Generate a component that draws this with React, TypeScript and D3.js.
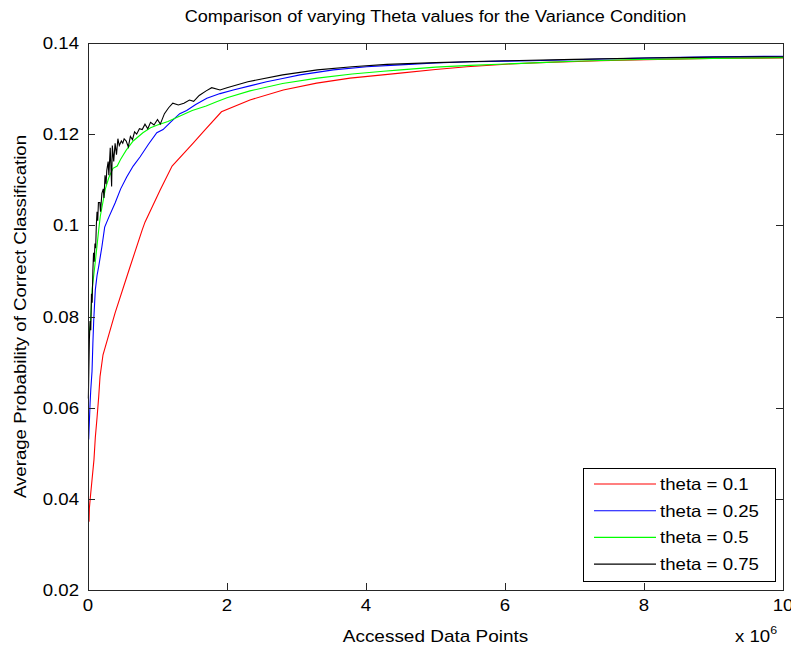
import React, { useEffect, useRef } from "react";
import * as d3 from "d3";

// x in units of 1e6 accessed data points, y = average probability
const theta01: [number, number][] = [
  [0.015, 0.035], [0.02, 0.038], [0.033, 0.0402], [0.058, 0.0442], [0.086, 0.0486],
  [0.105, 0.0534], [0.13, 0.0578], [0.154, 0.0624], [0.173, 0.0668], [0.216, 0.0716],
  [0.39, 0.0808], [0.59, 0.0902], [0.78, 0.099], [0.82, 0.1007], [1.04, 0.1078],
  [1.21, 0.113], [1.51, 0.118], [1.68, 0.1209], [1.92, 0.1249], [2.33, 0.1275],
  [2.81, 0.1297], [3.29, 0.1312], [3.77, 0.1323], [4.24, 0.133], [4.49, 0.1334],
  [5.0, 0.1342], [5.45, 0.1348], [6.07, 0.1354], [6.5, 0.1357], [7.37, 0.1361],
  [8.2, 0.1364], [8.95, 0.1366], [10, 0.1367],
];

const theta025: [number, number][] = [
  [0.01, 0.053], [0.02, 0.057], [0.03, 0.061], [0.04, 0.064], [0.058, 0.068],
  [0.07, 0.074], [0.082, 0.079], [0.105, 0.0858], [0.13, 0.089], [0.154, 0.091],
  [0.2, 0.0953], [0.24, 0.0996], [0.3, 0.1018], [0.39, 0.1049], [0.47, 0.108],
  [0.557, 0.1106], [0.65, 0.113], [0.748, 0.115], [0.87, 0.1178], [0.99, 0.1203],
  [1.08, 0.121], [1.2, 0.1228], [1.32, 0.1245], [1.42, 0.1252], [1.55, 0.1265],
  [1.71, 0.1279], [1.9, 0.1289], [2.09, 0.1297], [2.33, 0.1306], [2.57, 0.1315],
  [2.8, 0.1322], [3.05, 0.133], [3.53, 0.1341], [4.01, 0.1348], [4.49, 0.1352],
  [5.0, 0.1356], [5.5, 0.1359], [6.4, 0.1361], [7.4, 0.1365], [8.3, 0.1368],
  [9.0, 0.137], [10, 0.1371],
];

const theta05: [number, number][] = [
  [0.015, 0.076], [0.033, 0.078], [0.06, 0.086], [0.105, 0.092], [0.154, 0.099],
  [0.177, 0.102], [0.25, 0.108], [0.3, 0.1105], [0.36, 0.1125], [0.42, 0.113],
  [0.47, 0.1145], [0.55, 0.1165], [0.65, 0.1185], [0.79, 0.1203], [0.9, 0.1214],
  [1.0, 0.122], [1.15, 0.1228], [1.3, 0.1238], [1.5, 0.1252], [1.7, 0.1262],
  [1.85, 0.1271], [2.0, 0.128], [2.33, 0.1295], [2.8, 0.1311], [3.3, 0.1323],
  [3.8, 0.1332], [4.25, 0.1338], [4.5, 0.1341], [5.0, 0.1347], [5.5, 0.1351],
  [6.0, 0.1354], [6.5, 0.1357], [7.0, 0.136], [7.5, 0.1362], [8.0, 0.1364],
  [9.0, 0.1366], [10, 0.1368],
];

const theta075: [number, number][] = [
  [0.005, 0.062], [0.012, 0.068], [0.02, 0.075], [0.03, 0.079], [0.04, 0.077],
  [0.05, 0.085], [0.06, 0.083], [0.07, 0.09], [0.08, 0.094], [0.09, 0.092],
  [0.1, 0.096], [0.11, 0.095], [0.12, 0.1], [0.13, 0.103], [0.14, 0.101],
  [0.15, 0.105], [0.17, 0.105], [0.18, 0.103], [0.2, 0.107], [0.22, 0.108],
  [0.23, 0.106], [0.245, 0.111], [0.26, 0.109], [0.27, 0.112], [0.29, 0.114],
  [0.3, 0.111], [0.32, 0.117], [0.34, 0.1085], [0.35, 0.1175], [0.37, 0.114],
  [0.39, 0.118], [0.41, 0.1155], [0.43, 0.119], [0.45, 0.1175], [0.48, 0.1185],
  [0.5, 0.118], [0.52, 0.119], [0.55, 0.1185], [0.58, 0.1172], [0.61, 0.1195],
  [0.64, 0.1188], [0.67, 0.1205], [0.7, 0.12], [0.74, 0.1212], [0.78, 0.121],
  [0.82, 0.1222], [0.86, 0.1212], [0.9, 0.1226], [0.95, 0.122], [1.0, 0.1232],
  [1.04, 0.1222], [1.1, 0.1245], [1.16, 0.1258], [1.22, 0.1268], [1.3, 0.1264],
  [1.38, 0.1268], [1.46, 0.1275], [1.52, 0.1272], [1.6, 0.1285], [1.7, 0.1295],
  [1.78, 0.1302], [1.9, 0.1297], [2.0, 0.1302], [2.3, 0.1315], [2.8, 0.133],
  [3.3, 0.1341], [3.8, 0.1348], [4.3, 0.1353], [5.0, 0.1357], [6.0, 0.1361],
  [7.0, 0.1364], [8.0, 0.1367], [9.0, 0.1369], [10, 0.137],
];

const seriesNames = ["theta = 0.1", "theta = 0.25", "theta = 0.5", "theta = 0.75"];
const seriesData = [theta01, theta025, theta05, theta075];
const seriesColors = ["#ff0000", "#0000ff", "#00ff00", "#000000"];

const xTicks = [0, 2, 4, 6, 8, 10];
const yTicks = [0.02, 0.04, 0.06, 0.08, 0.1, 0.12, 0.14];

const FONT = "'Liberation Sans', Arial, Helvetica, sans-serif";
const STRETCH = 1.13; // reference glyphs are wider than Arial

export default function App() {
  const svgRef = useRef<SVGSVGElement>(null);

  useEffect(() => {
    const width = 791;
    const height = 645;
    const left = 88, right = 783, top = 43, bottom = 590;
    const tick = 7;

    const svg = d3.select(svgRef.current);
    svg.selectAll("*").remove();
    svg.attr("width", width).attr("height", height);

    svg.append("rect").attr("width", width).attr("height", height).attr("fill", "#fff");

    const x = d3.scaleLinear().domain([0, 10]).range([left, right]);
    const y = d3.scaleLinear().domain([0.02, 0.14]).range([bottom, top]);

    // lines
    const line = d3
      .line<[number, number]>()
      .x((d) => x(d[0]))
      .y((d) => y(d[1]));

    seriesData.forEach((data, i) => {
      svg
        .append("path")
        .datum(data)
        .attr("fill", "none")
        .attr("stroke", seriesColors[i])
        .attr("stroke-width", 1.1)
        .attr("d", line);
    });

    // box + inward ticks
    const axisColor = "#262626";
    svg
      .append("rect")
      .attr("x", left + 0.5)
      .attr("y", top + 0.5)
      .attr("width", right - left)
      .attr("height", bottom - top)
      .attr("fill", "none")
      .attr("stroke", axisColor)
      .attr("stroke-width", 1);

    const tg = svg.append("g").attr("stroke", axisColor).attr("stroke-width", 1);
    xTicks.forEach((t) => {
      const px = Math.round(x(t)) + 0.5;
      tg.append("line").attr("x1", px).attr("x2", px).attr("y1", bottom).attr("y2", bottom - tick);
      tg.append("line").attr("x1", px).attr("x2", px).attr("y1", top).attr("y2", top + tick);
    });
    yTicks.forEach((t) => {
      const py = Math.round(y(t)) + 0.5;
      tg.append("line").attr("x1", left).attr("x2", left + tick).attr("y1", py).attr("y2", py);
      tg.append("line").attr("x1", right).attr("x2", right - tick).attr("y1", py).attr("y2", py);
    });

    const txt = svg.append("g").attr("font-family", FONT).attr("fill", "#000");
    const label = (px: number, py: number, s: string, size: number, anchor = "middle", rot = 0) =>
      txt
        .append("text")
        .attr("transform", `translate(${px},${py}) rotate(${rot}) scale(${STRETCH},1)`)
        .attr("text-anchor", anchor)
        .attr("font-size", size)
        .text(s);

    xTicks.forEach((t) => label(x(t), bottom + 21, d3.format("d")(t), 16.5));
    yTicks.forEach((t) => label(left - 9, y(t) + 6, d3.format(".2~f")(t), 16.5, "end"));

    label((left + right) / 2, 22, "Comparison of varying Theta values for the Variance Condition", 16);
    label((left + right) / 2, 642, "Accessed Data Points", 16.8);
    label(26, (top + bottom) / 2, "Average Probability of Correct Classification", 16.5, "middle", -90);

    const ex = label(735, 642, "", 16.5, "start");
    ex.append("tspan").text("x 10");
    ex.append("tspan").attr("dy", -8).attr("font-size", 11).text("6");

    // legend
    const lg = svg.append("g");
    lg.append("rect")
      .attr("x", 583.5)
      .attr("y", 468.5)
      .attr("width", 192)
      .attr("height", 113)
      .attr("fill", "#fff")
      .attr("stroke", "#000")
      .attr("stroke-width", 1);
    seriesNames.forEach((name, i) => {
      const ry = 484 + i * 26.7;
      lg.append("line")
        .attr("x1", 594)
        .attr("x2", 656)
        .attr("y1", ry)
        .attr("y2", ry)
        .attr("stroke", seriesColors[i])
        .attr("stroke-width", 1.1);
      lg.append("text")
        .attr("transform", `translate(660,${ry + 6}) scale(${STRETCH},1)`)
        .attr("font-family", FONT)
        .attr("font-size", 16.5)
        .text(name);
    });
  }, []);

  return (
    <div style={{ position: "absolute", left: 0, top: 0 }}>
      <svg ref={svgRef}></svg>
    </div>
  );
}
